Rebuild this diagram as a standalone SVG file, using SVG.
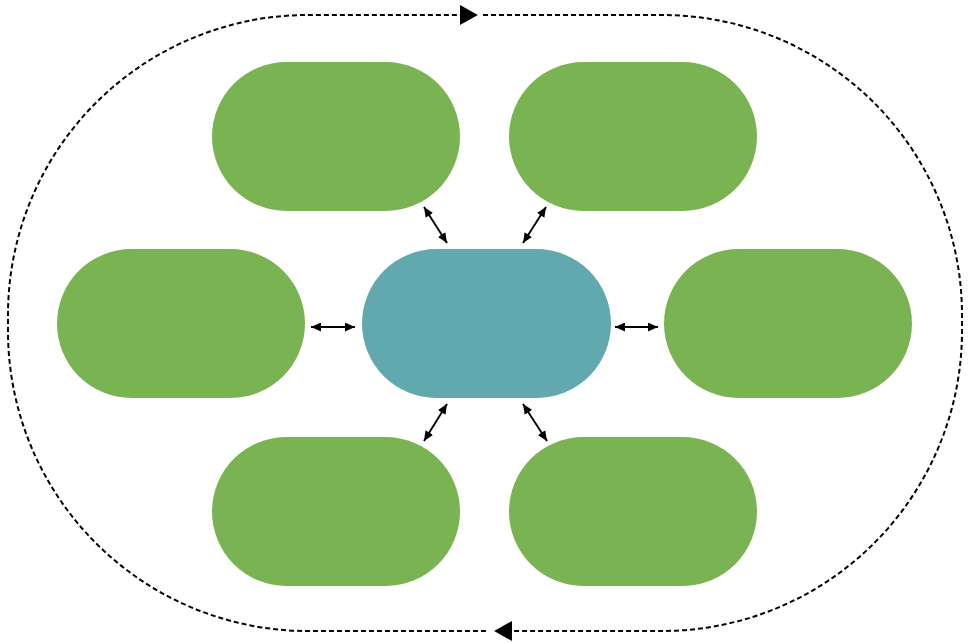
<svg xmlns="http://www.w3.org/2000/svg" width="969" height="643" viewBox="0 0 969 643">
<style>
.g{fill:#7AB452}
.c{fill:#62A9AF}
.loop{fill:none;stroke:#000;stroke-width:2;stroke-dasharray:5 3}
.link{fill:none;stroke:#000;stroke-width:1.9}
</style>
<defs>
<marker id="big" markerUnits="userSpaceOnUse" markerWidth="18" markerHeight="20" viewBox="0 0 17 19" refX="0" refY="9.5" orient="auto">
<path d="M0,0 L17,9.5 L0,19 Z" fill="#000"/>
</marker>
<marker id="sm" markerUnits="userSpaceOnUse" markerWidth="10" markerHeight="9" viewBox="0 0 9 8" refX="9" refY="4" orient="auto-start-reverse">
<path d="M0,0 L9,4 L0,8 Z" fill="#000"/>
</marker>
</defs>
<rect width="969" height="643" fill="#fff"/>
<g id="nodes">
<g id="center"><rect class="c" x="362" y="249" width="249" height="149" rx="74.5"/></g>
<g id="top-left"><rect class="g" x="212" y="62" width="248" height="149" rx="74.5"/></g>
<g id="top-right"><rect class="g" x="509" y="62" width="248" height="149" rx="74.5"/></g>
<g id="mid-left"><rect class="g" x="57" y="249" width="248" height="149" rx="74.5"/></g>
<g id="mid-right"><rect class="g" x="664" y="249" width="248" height="149" rx="74.5"/></g>
<g id="bottom-left"><rect class="g" x="212" y="437" width="248" height="149" rx="74.5"/></g>
<g id="bottom-right"><rect class="g" x="509" y="437" width="248" height="149" rx="74.5"/></g>
</g>
<g id="connectors">
<path class="loop" d="M483,15 L662,15 A300,300 0 0 1 962,315 L962,331 A300,300 0 0 1 662,631 L512,631" marker-end="url(#big)"/>
<path class="loop" d="M486,631 L308,631 A300,300 0 0 1 8,331 L8,315 A300,300 0 0 1 308,15 L460,15" marker-end="url(#big)"/>
<line class="link" x1="424" y1="207" x2="447" y2="243" marker-start="url(#sm)" marker-end="url(#sm)"/>
<line class="link" x1="546" y1="207" x2="523" y2="243" marker-start="url(#sm)" marker-end="url(#sm)"/>
<line class="link" x1="311" y1="327" x2="355" y2="327" marker-start="url(#sm)" marker-end="url(#sm)"/>
<line class="link" x1="615" y1="327" x2="658" y2="327" marker-start="url(#sm)" marker-end="url(#sm)"/>
<line class="link" x1="447" y1="404" x2="424" y2="441" marker-start="url(#sm)" marker-end="url(#sm)"/>
<line class="link" x1="523" y1="404" x2="547" y2="441" marker-start="url(#sm)" marker-end="url(#sm)"/>
</g>
</svg>
